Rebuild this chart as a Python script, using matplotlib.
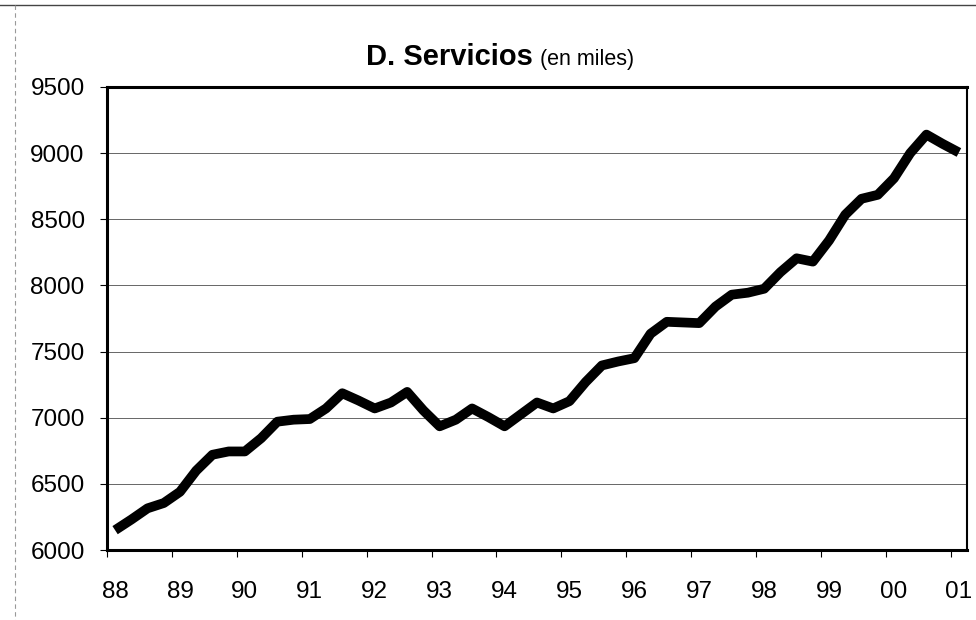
import numpy as np
import matplotlib
matplotlib.use("Agg")
import matplotlib.pyplot as plt
from matplotlib.lines import Line2D

# Quarterly employment in services (thousands), 1988Q1 - 2001Q1
years = ["88", "89", "90", "91", "92", "93", "94", "95", "96", "97", "98", "99", "00", "01"]
servicios = [
    6150, 6230, 6315, 6355,
    6440, 6600, 6720, 6745,
    6745, 6845, 6970, 6985,
    6990, 7070, 7185, 7130,
    7070, 7115, 7195, 7055,
    6935, 6985, 7070, 7005,
    6935, 7025, 7115, 7070,
    7125, 7270, 7395, 7425,
    7450, 7635, 7725, 7720,
    7715, 7840, 7930, 7945,
    7975, 8100, 8205, 8180,
    8340, 8535, 8655, 8685,
    8810, 9000, 9140, 9070,
    9005,
]
y_ticks = [6000, 6500, 7000, 7500, 8000, 8500, 9000, 9500]

plt.rcParams['font.family'] = ['Liberation Sans', 'DejaVu Sans']

fig = plt.figure(figsize=(9.76, 6.2), dpi=100)
ax = fig.add_axes([0.1096, 0.1129, 0.8812, 0.7468])

x = np.arange(len(servicios))
ax.plot(x, servicios, color='black', linewidth=7, solid_joinstyle='round',
        solid_capstyle='butt', zorder=3)

# Axes limits, grid and spines
ax.set_xlim(-0.5, len(servicios) - 0.5)
ax.set_ylim(y_ticks[0], y_ticks[-1])
ax.set_yticks(y_ticks)
ax.set_yticklabels([str(v) for v in y_ticks])
ax.yaxis.grid(True, color='#666666', linewidth=0.7)
ax.set_axisbelow(True)
for side in ['left', 'bottom', 'top']:
    ax.spines[side].set_linewidth(2.2)
ax.spines['right'].set_linewidth(1.5)

# Category axis: tick marks between years, labels on the first quarter
ax.set_xticks(np.arange(-0.5, len(servicios), 4))
ax.set_xticklabels([])
ax.set_xticks(np.arange(0, len(servicios), 4), minor=True)
ax.set_xticklabels(years, minor=True)
ax.tick_params(axis='x', which='major', direction='out', length=5, width=0.8)
ax.tick_params(axis='x', which='minor', length=0, pad=22, labelsize=17.5)
ax.tick_params(axis='y', direction='out', length=5, width=0.8, pad=11, labelsize=17.5)

# Title: bold name plus units in regular weight
fig.text(533 / 976, 1 - 65 / 620, "D. Servicios", fontsize=21, fontweight='bold',
         ha='right', va='baseline')
fig.text(540 / 976, 1 - 65 / 620, "(en miles)", fontsize=15.5, ha='left', va='baseline')

# Outer frame lines
fig.add_artist(Line2D([0.0, 1.0], [1 - 5 / 620, 1 - 5 / 620], color='#444444',
                      linewidth=1.0, transform=fig.transFigure))
fig.add_artist(Line2D([15 / 976, 15 / 976], [1 - 5 / 620, 0.0], color='#999999',
                      linewidth=0.8, linestyle=(0, (4, 3)), transform=fig.transFigure))

fig.savefig("out.png", dpi=100, facecolor='white')
